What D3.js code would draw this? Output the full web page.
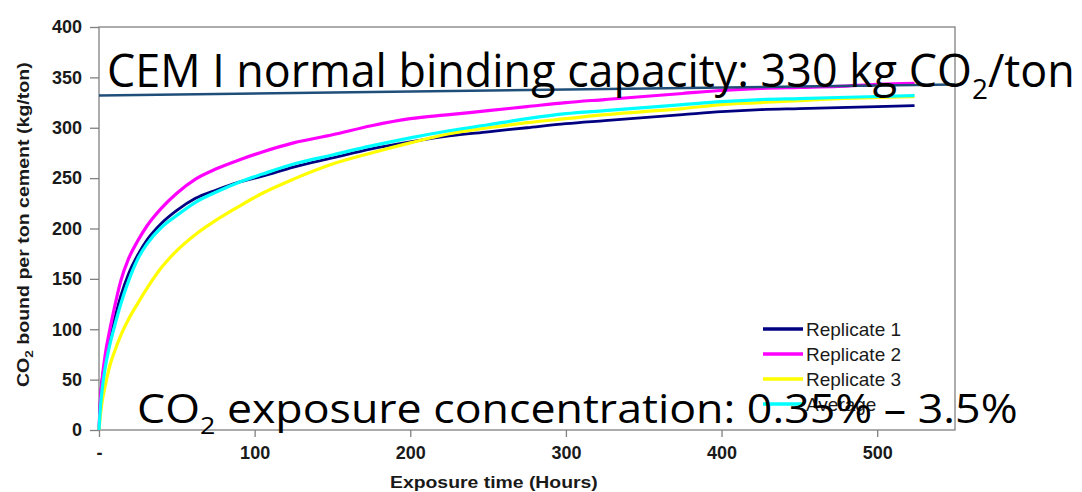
<!DOCTYPE html>
<html>
<head>
<meta charset="utf-8">
<script src="https://cdn.jsdelivr.net/npm/d3@7"></script>
<style>
  body { margin: 0; background: #fff; }
  svg { display: block; }
</style>
</head>
<body>
<script>
var width = 1082
var height = 492

// exposure time (hours) shared by all series
var hours = [0, 1, 2, 4, 7, 10, 14, 19, 25, 31, 40, 50, 62, 75, 90, 105, 125, 150, 175, 200,
  225, 250, 275, 300, 325, 350, 375, 400, 425, 450, 475, 500, 524]

// CO2 bound per ton cement (kg/ton)
var replicate1 = [0, 32, 50, 68, 90, 110, 133, 155, 174, 189, 205, 218, 230, 238, 246, 252, 261, 270, 279, 286,
  292, 296, 300, 304, 307, 310, 313, 316, 318, 319, 320, 321, 322]
var replicate2 = [0, 33, 50, 75, 100, 122, 148, 170, 188, 203, 220, 235, 249, 259, 268, 276, 285, 293, 302, 309,
  313, 317, 321, 325, 328, 331, 334, 337, 339, 340, 341, 343, 344]
var replicate3 = [0, 16, 28, 44, 64, 78, 94, 110, 126, 141, 161, 178, 194, 208, 222, 235, 249, 264, 275, 285,
  294, 300, 305, 309, 313, 316, 319, 323, 325, 327, 329, 330, 331]
var average = [0, 24, 40, 62, 85, 103, 125, 148, 170, 185, 201, 213, 226, 236, 246, 254, 264, 273, 282, 290,
  297, 303, 309, 314, 317, 320, 323, 326, 328, 329, 330, 331, 332]

var seriesNames = ['Replicate 1', 'Replicate 2', 'Replicate 3', 'Average']
var seriesColors = ['#000080', '#ff00ff', '#ffff00', '#00ffff']

// hand-drawn "binding capacity" line (hours, kg/ton)
var capacityLine = [[0, 332], [550, 343]]

var xTicks = [0, 100, 200, 300, 400, 500]
var yTicks = [0, 50, 100, 150, 200, 250, 300, 350, 400]

var plot = { left: 99, right: 955, top: 27, bottom: 430 }

var svg = d3.select('body').append('svg')
  .attr('width', width)
  .attr('height', height)

var x = d3.scaleLinear().domain([0, 550]).range([plot.left, plot.right])
var y = d3.scaleLinear().domain([0, 400]).range([plot.bottom, plot.top])

// frame
svg.append('rect')
  .attr('x', plot.left)
  .attr('y', plot.top)
  .attr('width', plot.right - plot.left)
  .attr('height', plot.bottom - plot.top)
  .style('fill', 'none')
  .style('stroke', '#808080')
  .style('stroke-width', 1.3)

var xAxis = svg.append('g')
  .attr('transform', 'translate(0,' + plot.bottom + ')')
  .call(d3.axisBottom(x).tickValues(xTicks).tickSize(7).tickPadding(9)
    .tickFormat(function(d) { return d === 0 ? '-' : d }))
var yAxis = svg.append('g')
  .attr('transform', 'translate(' + plot.left + ',0)')
  .call(d3.axisLeft(y).tickValues(yTicks).tickSize(9).tickPadding(8))

svg.selectAll('.domain').remove()
svg.selectAll('.tick line').style('stroke', '#808080').style('stroke-width', 1.3)
svg.selectAll('.tick text')
  .style('font-family', 'Liberation Sans, Arial, sans-serif')
  .style('font-weight', 'bold')
  .style('font-size', '18px')
  .style('fill', '#1a1a1a')

// series
var allSeries = [replicate1, replicate2, replicate3, average]
var line = d3.line()
  .x(function(d) { return x(d[0]) })
  .y(function(d) { return y(d[1]) })
  .curve(d3.curveMonotoneX)

allSeries.forEach(function(vals, i) {
  svg.append('path')
    .datum(hours.map(function(h, j) { return [h, vals[j]] }))
    .attr('d', line)
    .style('fill', 'none')
    .style('stroke', seriesColors[i])
    .style('stroke-width', i === 0 ? 2.8 : 3.2)
})

// capacity line
svg.append('path')
  .datum(capacityLine)
  .attr('d', d3.line().x(function(d) { return x(d[0]) }).y(function(d) { return y(d[1]) }))
  .style('stroke', '#1f4e79')
  .style('stroke-width', 2.5)

// legend
var legend = svg.append('g')
seriesNames.forEach(function(name, i) {
  var ly = 329 + i * 25
  legend.append('line')
    .attr('x1', 763).attr('x2', 803)
    .attr('y1', ly).attr('y2', ly)
    .style('stroke', seriesColors[i])
    .style('stroke-width', 3.5)
  legend.append('text')
    .attr('x', 806)
    .attr('y', ly + 7)
    .text(name)
    .style('font-family', 'Liberation Sans, Arial, sans-serif')
    .style('font-size', '19px')
    .style('fill', '#1a1a1a')
})

// helper: stretch a text element so it spans a target width
function fitText(t, x0, y0, target, rotate) {
  var w = t.node().getComputedTextLength()
  var s = target / w
  if (rotate) {
    t.attr('transform', 'translate(' + x0 + ',' + y0 + ') rotate(-90) scale(' + s + ',1)')
  } else {
    t.attr('transform', 'translate(' + x0 + ',' + y0 + ') scale(' + s + ',1)')
  }
}

// axis titles
var xt = svg.append('text')
  .text('Exposure time (Hours)')
  .style('font-family', 'Liberation Sans, Arial, sans-serif')
  .style('font-weight', 'bold')
  .style('font-size', '17px')
  .style('fill', '#1a1a1a')
fitText(xt, 390, 488, 208)

var yt = svg.append('text')
  .style('font-family', 'Liberation Sans, Arial, sans-serif')
  .style('font-weight', 'bold')
  .style('font-size', '16px')
  .style('fill', '#1a1a1a')
yt.append('tspan').text('CO')
yt.append('tspan').text('2').style('font-size', '11px').attr('dy', 4)
yt.append('tspan').text(' bound per ton cement (kg/ton)').attr('dy', -4)
fitText(yt, 29, 387, 325, true)

// overlay annotations
var title = svg.append('text')
  .style('font-family', 'Open Sans, sans-serif')
  .style('font-size', '45px')
  .style('fill', '#000')
title.append('tspan').text('CEM I normal binding capacity: 330 kg CO')
title.append('tspan').text('2').style('font-size', '28px').attr('dy', 12)
title.append('tspan').text('/ton').attr('dy', -12)
fitText(title, 107, 87, 968)

var note = svg.append('text')
  .style('font-family', 'Open Sans, sans-serif')
  .style('font-size', '40px')
  .style('fill', '#000')
note.append('tspan').text('CO')
note.append('tspan').text('2').style('font-size', '24px').attr('dy', 11)
note.append('tspan').text(' exposure concentration: 0.35% \u2013 3.5%').attr('dy', -11)
fitText(note, 137, 423, 881)
</script>
</body>
</html>
